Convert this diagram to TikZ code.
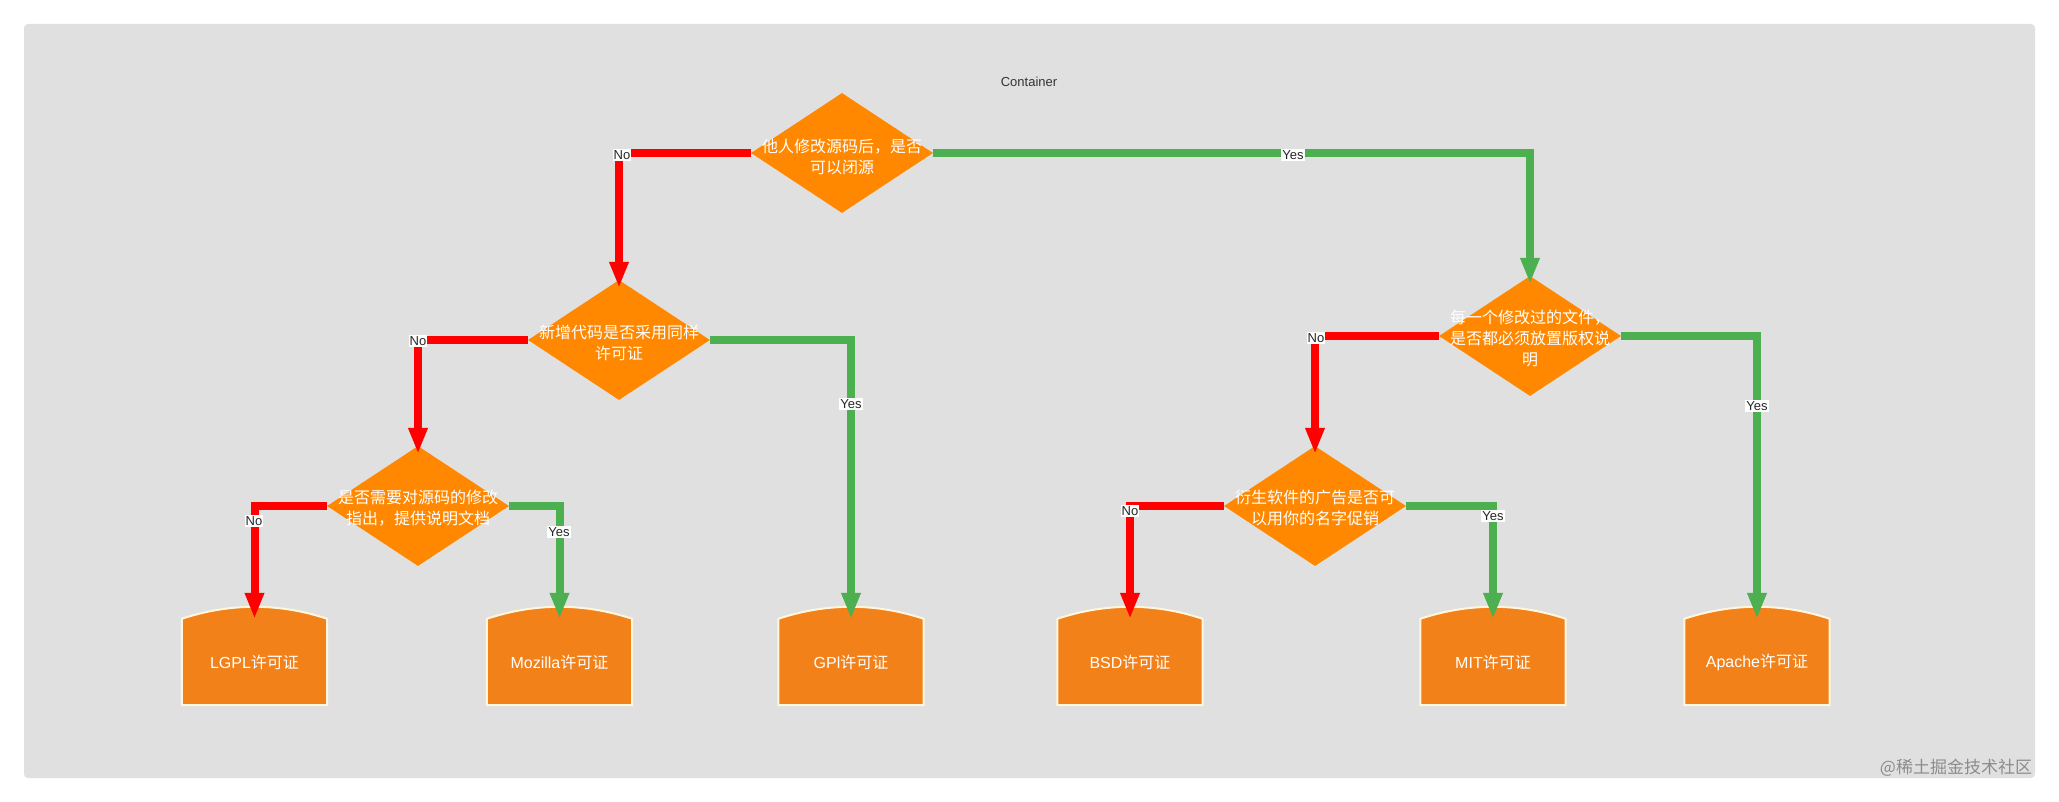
\documentclass[tikz,border=0pt]{standalone}
\usepackage{fontspec}
\setmainfont{Liberation Sans}
\newfontfamily\cjk{Noto Sans CJK SC}
\usetikzlibrary{shapes.geometric,arrows.meta,calc}
\definecolor{bgc}{RGB}{224,224,224}
\definecolor{dorange}{RGB}{255,136,0}
\definecolor{borange}{RGB}{242,129,25}
\definecolor{bedge}{RGB}{255,246,222}
\definecolor{rline}{RGB}{255,0,0}
\definecolor{gline}{RGB}{76,175,80}
\pgfdeclarelayer{bgA}
\pgfdeclarelayer{bgB}
\pgfsetlayers{bgA,bgB,main}
\begin{document}
\begin{tikzpicture}[x=1pt,y=-1pt,
  dia/.style={shape=diamond, fill=dorange, draw=none, minimum width=182pt, minimum height=120pt, inner sep=0pt},
  dtext/.style={text=white, align=center, inner sep=0pt, font=\cjk\fontsize{16}{21}\selectfont},
  lic/.style={minimum width=145pt, minimum height=86pt, inner sep=0pt, text=white, font=\fontsize{16}{19}\selectfont},
  licshape/.style={fill=borange, draw=bedge, line width=2pt},
  conn/.style={line width=8pt, -{Triangle[width=18pt,length=26pt]}},
  redc/.style={conn, draw=rline},
  greenc/.style={conn, draw=gline},
  tod/.style={shorten >=-8pt},
  lbl/.style={fill=white, inner sep=1pt, text=black!85, font=\fontsize{13}{13}\selectfont},
  ctitle/.style={text=black!80, font=\fontsize{13}{13}\selectfont},
  wmark/.style={text=black!45, font=\cjk\fontsize{17}{17}\selectfont}
]
\useasboundingbox (0,0) rectangle (2059,802);
\begin{pgfonlayer}{bgA}
  \fill[white] (0,0) rectangle (2059,802);
  \fill[bgc, rounded corners=4pt] (24,24) rectangle (2035,778);
\end{pgfonlayer}

\node[ctitle] (title) at (1029,82) {Container};

% decision diamonds
\node[dia] (d1) at (842,153) {};
\node[dtext] (t1) at (842,157) {他人修改源码后，是否\\可以闭源};
\node[dia] (d2) at (619,340) {};
\node[dtext] (t2) at (619,343) {新增代码是否采用同样\\许可证};
\node[dia] (d3) at (418,506) {};
\node[dtext] (t3) at (418,508) {是否需要对源码的修改\\指出，提供说明文档};
\node[dia] (d4) at (1530,336) {};
\node[dtext] (t4) at (1530,338) {每一个修改过的文件，\\是否都必须放置版权说\\明};
\node[dia] (d5) at (1315,506) {};
\node[dtext] (t5) at (1315,508) {衍生软件的广告是否可\\以用你的名字促销};

% licence boxes
\node[lic] (lgpl)   at (254.5,662) {LGPL{\cjk 许可证}};
\node[lic] (moz)    at (559.5,662) {Mozilla{\cjk 许可证}};
\node[lic] (gpl)    at (851,662)   {GPl{\cjk 许可证}};
\node[lic] (bsd)    at (1130,662)  {BSD{\cjk 许可证}};
\node[lic] (mit)    at (1493,662)  {MIT{\cjk 许可证}};
\node[lic] (apache) at (1757,662)  {Apache{\cjk 许可证}};

\begin{pgfonlayer}{bgB}
  \foreach \n in {lgpl,moz,gpl,bsd,mit,apache}{
    \filldraw[licshape] (\n.south west) -- (\n.north west)
      .. controls ($(\n.north west)+(48,-16)$) and ($(\n.north east)+(-48,-16)$) .. (\n.north east)
      -- (\n.south east) -- cycle;
  }
\end{pgfonlayer}

% connectors
\draw[redc,tod]   (d1.west) -| (d2.north);
\draw[greenc,tod] (d1.east) -| (d4.north);
\draw[redc,tod]   (d2.west) -| (d3.north);
\draw[greenc]     (d2.east) -| (gpl.north);
\draw[redc]       (d3.west) -| (lgpl.north);
\draw[greenc]     (d3.east) -| (moz.north);
\draw[redc,tod]   (d4.west) -| (d5.north);
\draw[greenc]     (d4.east) -| (apache.north);
\draw[redc]       (d5.west) -| (bsd.north);
\draw[greenc]     (d5.east) -| (mit.north);

% connector labels
\node[lbl] (l1)  at (622,155)  {No};
\node[lbl] (l2)  at (1293,155) {Yes};
\node[lbl] (l3)  at (418,341)  {No};
\node[lbl] (l4)  at (851,404)  {Yes};
\node[lbl] (l5)  at (254,521)  {No};
\node[lbl] (l6)  at (559,532)  {Yes};
\node[lbl] (l7)  at (1316,338) {No};
\node[lbl] (l8)  at (1757,406) {Yes};
\node[lbl] (l9)  at (1130,511) {No};
\node[lbl] (l10) at (1493,516) {Yes};

\node[wmark] (wm) at (1956,768) {@稀土掘金技术社区};
\end{tikzpicture}
\end{document}
